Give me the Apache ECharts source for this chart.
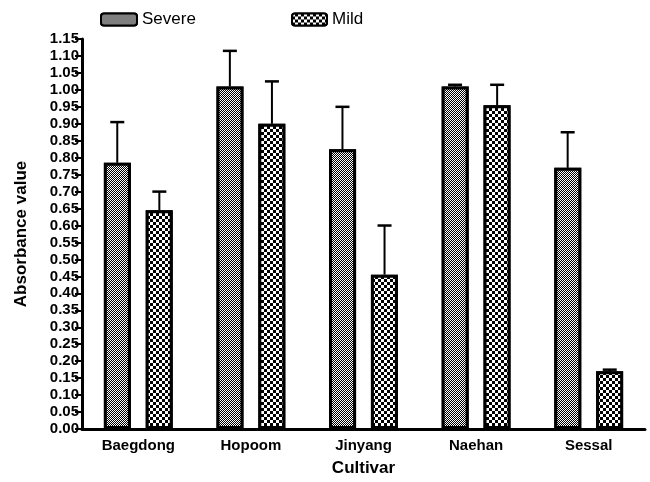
<!DOCTYPE html>
<html><head><meta charset="utf-8">
<script src="https://cdn.jsdelivr.net/npm/echarts@6/dist/echarts.min.js"></script>
<style>html,body{margin:0;padding:0;background:#fff}#c{width:650px;height:482px}</style>
</head><body><div id="c"></div>
<script>
var categories = ['Baegdong', 'Hopoom', 'Jinyang', 'Naehan', 'Sessal'];
var severe = [0.785, 1.01, 0.825, 1.01, 0.77];
var severeErr = [0.905, 1.115, 0.95, 1.015, 0.875];
var mild = [0.645, 0.90, 0.455, 0.955, 0.17];
var mildErr = [0.70, 1.025, 0.60, 1.015, 0.175];

var FONT = 'Liberation Sans, Arial, sans-serif';
var fineDecal = {symbol:'rect', symbolSize:1, color:'#000', backgroundColor:'#fff',
  dashArrayX:[[1,1],[0,1,1,0]], dashArrayY:[1,0]};
var coarseDecal = {symbol:'rect', symbolSize:1, color:'#000', backgroundColor:'#fff',
  dashArrayX:[[3,3],[0,3,3,0]], dashArrayY:[3,0]};

function errSeries(vals, tops, side) {
  var data = vals.map(function(v,i){ return [i, v, tops[i]]; });
  return {
    type:'custom', z:5, silent:true,
    data: data,
    renderItem: function(params, api) {
      var i = api.value(0);
      var band = api.size([1,0])[0];
      var off = side * band * 21 / 112.4;
      var p0 = api.coord([i, api.value(1)]);
      var p1 = api.coord([i, api.value(2)]);
      var x = p0[0] + off;
      return {type:'group', children:[
        {type:'line', shape:{x1:x, y1:p0[1], x2:x, y2:p1[1]}, style:{stroke:'#000', lineWidth:2}},
        {type:'line', shape:{x1:x-7, y1:p1[1], x2:x+7, y2:p1[1]}, style:{stroke:'#000', lineWidth:2.5}}
      ]};
    }
  };
}

var chart = echarts.init(document.getElementById('c'));
chart.setOption({
  animation:false,
  legend:[
    {data:['Severe'], left:95, top:6, itemWidth:36, itemHeight:12, itemGap:4,
     textStyle:{fontFamily:FONT, fontSize:17, color:'#000'}},
    {data:['Mild'], left:286, top:6, itemWidth:35, itemHeight:12, itemGap:3,
     textStyle:{fontFamily:FONT, fontSize:17, color:'#000'}}
  ],
  grid:{left:82, right:5, top:39, bottom:53, outerBoundsMode:'none', containLabel:false},
  xAxis:{
    type:'category', data:categories,
    name:'Cultivar', nameLocation:'middle', nameGap:31,
    nameTextStyle:{fontFamily:FONT, fontSize:17, fontWeight:'bold', color:'#000'},
    axisLine:{lineStyle:{color:'#000', width:3}},
    axisTick:{alignWithLabel:true, length:6, lineStyle:{color:'#000', width:2}},
    axisLabel:{fontFamily:FONT, fontSize:15, fontWeight:'bold', color:'#000', margin:9}
  },
  yAxis:{
    type:'value', min:0, max:1.15, interval:0.05,
    name:'Absorbance value', nameLocation:'middle', nameGap:52, nameRotate:90,
    nameTextStyle:{fontFamily:FONT, fontSize:17, fontWeight:'bold', color:'#000'},
    splitLine:{show:false},
    axisLine:{show:true, lineStyle:{color:'#000', width:3}},
    axisTick:{show:true, length:7, lineStyle:{color:'#000', width:2}},
    axisLabel:{fontFamily:FONT, fontSize:15, fontWeight:'bold', color:'#000', margin:3,
      formatter:function(v){ return v.toFixed(2); }}
  },
  series:[
    {name:'Severe', type:'bar', data:severe, barWidth:27, barGap:'55%',
     itemStyle:{color:'#fff', borderColor:'#000', borderWidth:3, decal:fineDecal}},
    {name:'Mild', type:'bar', data:mild, barWidth:27,
     itemStyle:{color:'#fff', borderColor:'#000', borderWidth:3, decal:coarseDecal}},
    errSeries(severe, severeErr, -1),
    errSeries(mild, mildErr, 1)
  ]
});
</script>
</body></html>
